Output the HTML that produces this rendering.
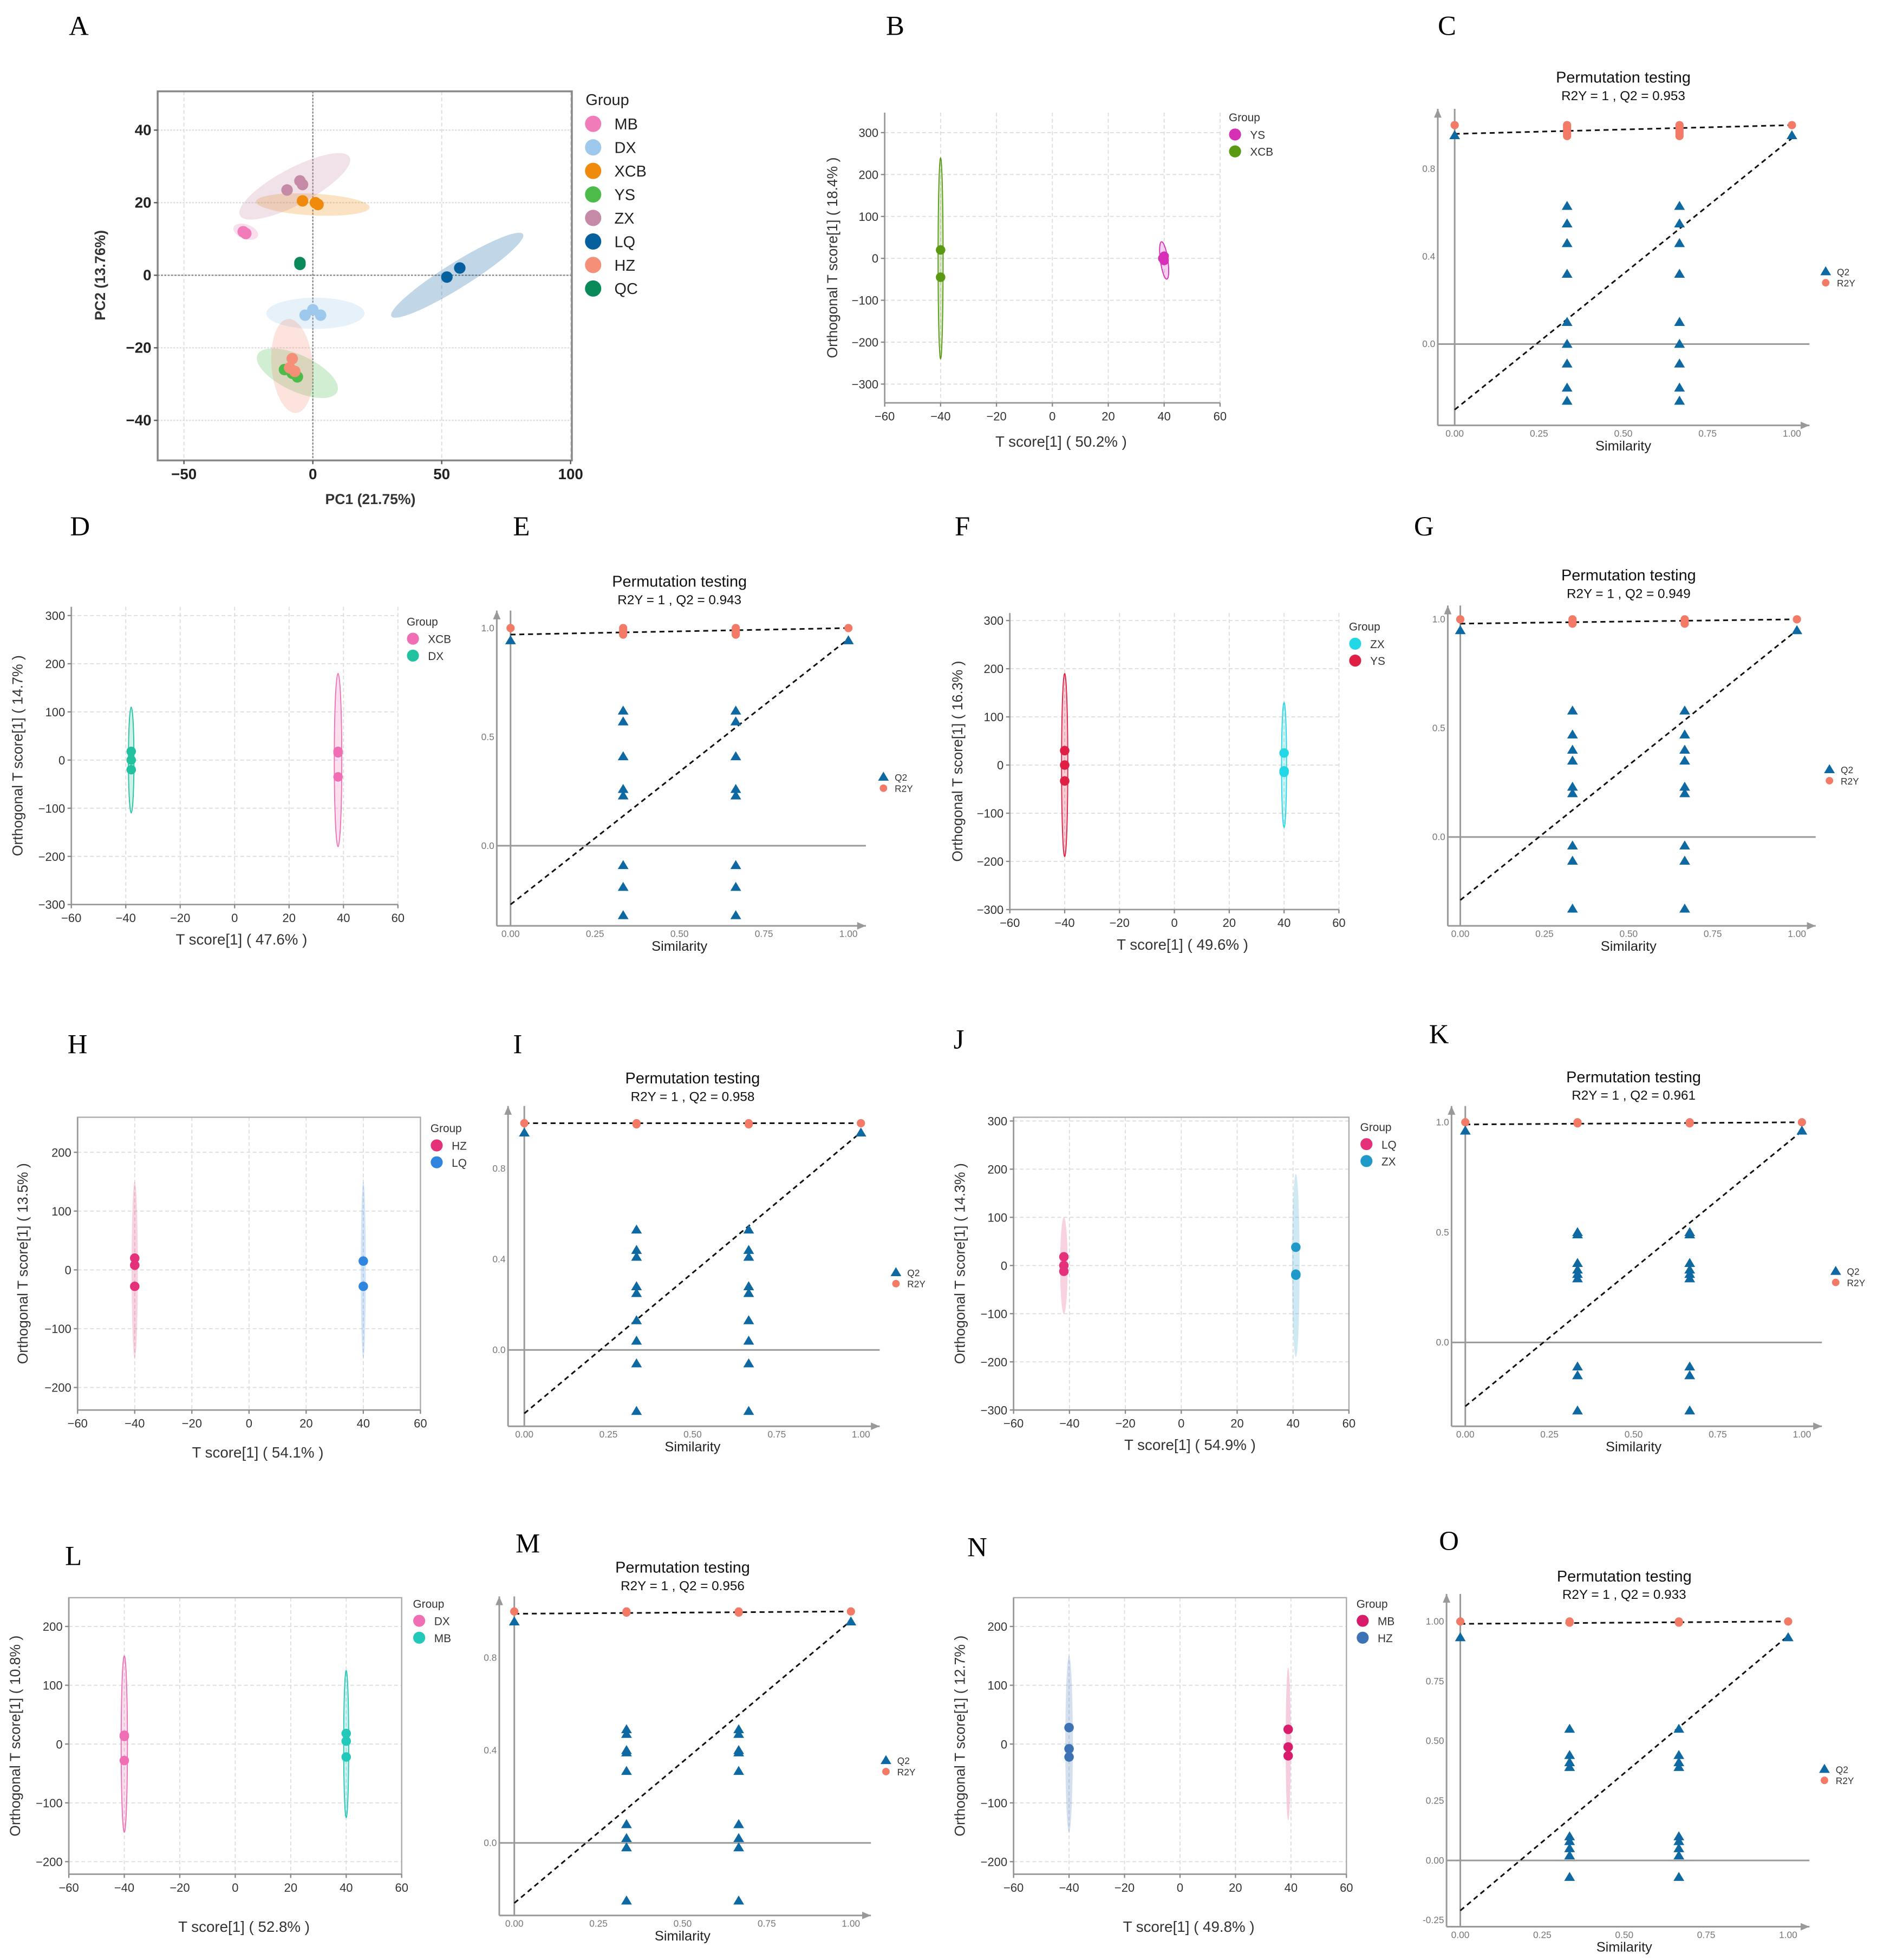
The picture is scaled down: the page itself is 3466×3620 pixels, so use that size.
<!DOCTYPE html>
<html><head><meta charset="utf-8"><style>
html,body{margin:0;padding:0;background:#fff}
svg{display:block}
text{font-family:"Liberation Sans",sans-serif}
.lab{font-family:"Liberation Serif",serif;font-size:22px}
</style></head><body>
<svg id="fig" xmlns="http://www.w3.org/2000/svg" width="3466" height="3620" viewBox="0 0 1500 1566.6" preserveAspectRatio="none"></svg>
<script>
// ===== Panel A (PCA) data =====
const aGroups = ["MB","DX","XCB","YS","ZX","LQ","HZ","QC"];
const aColors = ["#f07cba","#9fc9ec","#f08a0c","#4dbb4a","#c58aa5","#07609e","#f58f78","#0a8a5a"];
const aPoints = [[[-27,12],[-26,11.5]],[[0,-9.5],[-3,-11],[3,-11]],[[-4,20.5],[1,20],[2,19.5]],[[-11,-26],[-6,-28],[-8,-27]],[[-10,23.5],[-5,26],[-4,25]],[[52,-0.5],[57,2]],[[-8,-23],[-9,-25.5],[-7,-26.5]],[[-5,3.5],[-5,3]]];
const aEll = [[-26,12,5,2,-20],[1,-10.5,19,4.3,0],[0,19.5,22,3,-3],[-6,-27,17,5,-25],[-7,24.5,24,5,28],[56,0,30,3.5,32],[-8,-25,8,13,5],[-5,3.3,1,1,0]];
const aXTicks = [-50,0,50,100];
const aYTicks = [40,20,0,-20,-40];

// ===== OPLS-DA score plots data =====
const bGroups=["YS","XCB"], bColors=["#d62fb8","#5a9a13"], bPts=[[[40,5],[40,-5],[39.5,0]],[[-40,20],[-40,-45]]];
const dGroups=["XCB","DX"], dColors=["#f06eb4","#22c2a0"], dPts=[[[38,18],[38,-35],[38,15]],[[-38,18],[-38,0],[-38,-20]]];
const fGroups=["ZX","YS"], fColors=["#22d8e6","#e01f45"], fPts=[[[40,25],[40,-12],[40,-15]],[[-40,30],[-40,0],[-40,-33]]];
const hGroups=["HZ","LQ"], hColors=["#e5307a","#2f86df"], hPts=[[[-40,20],[-40,8],[-40,-28]],[[40,15],[40,-28]]];
const jGroups=["LQ","ZX"], jColors=["#e5307a","#1f9ac8"], jPts=[[[-42,18],[-42,0],[-42,-12]],[[41,38],[41,-18],[41,-20]]];
const lGroups=["DX","MB"], lColors=["#f06eb4","#22c8b8"], lPts=[[[-40,15],[-40,13],[-40,-28]],[[40,18],[40,5],[40,-22]]];
const nGroups=["MB","HZ"], nColors=["#d81b6a","#3d73b5"], nPts=[[[39,25],[39,-5],[39,-20]],[[-40,28],[-40,-8],[-40,-22]]];
const scoreXTicks=[-60,-40,-20,0,20,40,60];

// ===== Permutation data =====
const cQ2=[0.63,0.55,0.46,0.32,0.10,0.0,-0.09,-0.20,-0.26], cR2=[1.0,0.99,0.98,0.97,0.96,0.95], cEnd=[0.953,1.0], cLines=[0.96,1.0,-0.30,0.94];
const eQ2=[0.62,0.57,0.41,0.26,0.23,-0.09,-0.19,-0.32], eR2=[1.0,0.99,0.98,0.97], eEnd=[0.943,1.0], eLines=[0.97,1.0,-0.27,0.95];
const gQ2=[0.58,0.47,0.40,0.35,0.23,0.20,-0.04,-0.11,-0.33], gR2=[1.0,0.99,0.98], gEnd=[0.949,1.0], gLines=[0.98,1.0,-0.29,0.95];
const iQ2=[0.53,0.44,0.41,0.28,0.25,0.13,0.04,-0.06,-0.27], iR2=[1.0,0.995], iEnd=[0.958,1.0], iLines=[1.0,1.0,-0.28,0.96];
const kQ2=[0.50,0.49,0.36,0.33,0.31,0.29,-0.11,-0.15,-0.31], kR2=[1.0,0.995], kEnd=[0.961,1.0], kLines=[0.99,1.0,-0.29,0.96];
const mQ2=[0.49,0.47,0.40,0.39,0.31,0.08,0.02,-0.02,-0.25], mR2=[1.0,0.995], mEnd=[0.956,1.0], mLines=[0.99,1.0,-0.26,0.96];
const oQ2=[0.55,0.44,0.41,0.39,0.10,0.08,0.05,0.02,-0.07], oR2=[1.0,0.995], oEnd=[0.933,1.0], oLines=[0.99,1.0,-0.21,0.94];

const NS="http://www.w3.org/2000/svg";
const svg=document.getElementById('fig');
function el(tag,attrs,parent,txt){const e=document.createElementNS(NS,tag);for(const k in attrs)e.setAttribute(k,attrs[k]);if(txt!==undefined)e.textContent=txt;(parent||svg).appendChild(e);return e;}
function lin(v0,p0,v1,p1){return v=>p0+(v-v0)*(p1-p0)/(v1-v0);}

// Panel letters
const letters=[["A",63,28],["B",716,28],["C",1157,28],["D",64,428],["E",418,428],["F",771,428],["G",1138,428],["H",62,842],["I",418,842],["J",770,838],["K",1150,834],["L",60,1251],["M",420,1241],["N",781,1244],["O",1158,1239]];
letters.forEach(l=>{const t=el('text',{x:l[1]-8,y:l[2],class:'lab'},svg,l[0]);

});

// ===== Panel A =====
(function(){
 const g=el('g',{});
 const X=lin(0,250,50,353),Y=lin(0,220,20,162);
 const L=126,R=457,T=73,B=368;
 aXTicks.forEach(v=>el('line',{x1:X(v),x2:X(v),y1:T,y2:B,stroke:'#ddd','stroke-dasharray':'3,2','stroke-width':0.8},g));
 aYTicks.forEach(v=>el('line',{x1:L,x2:R,y1:Y(v),y2:Y(v),stroke:'#ddd','stroke-dasharray':'1.5,1','stroke-width':1},g));
 el('line',{x1:X(0),x2:X(0),y1:T,y2:B,stroke:'#777','stroke-dasharray':'1.5,1.2','stroke-width':0.9},g);
 el('line',{x1:L,x2:R,y1:Y(0),y2:Y(0),stroke:'#777','stroke-dasharray':'1.5,1.2','stroke-width':0.9},g);
 aEll.forEach((e,i)=>{if(i===7)return;const el2=el('ellipse',{cx:X(e[0]),cy:Y(e[1]),rx:e[2]*2.067,ry:e[3]*2.9,fill:aColors[i],opacity:0.25,transform:`rotate(${-e[4]} ${X(e[0])} ${Y(e[1])})`},g);
  });
 aPoints.forEach((pts,i)=>pts.forEach(p=>{const c=el('circle',{cx:X(p[0]),cy:Y(p[1]),r:4.6,fill:aColors[i]},g);
  }));
 el('rect',{x:L,y:T,width:R-L,height:B-T,fill:'none',stroke:'#888','stroke-width':1.5},g);
 aXTicks.forEach(v=>{el('line',{x1:X(v),x2:X(v),y1:B,y2:B+3,stroke:'#555'},g);el('text',{x:X(v),y:B+15,'text-anchor':'middle','font-size':12,'font-weight':'bold',fill:'#222'},g,v==-50?'−50':v);});
 aYTicks.forEach(v=>{el('line',{x1:L-3,x2:L,y1:Y(v),y2:Y(v),stroke:'#555'},g);el('text',{x:L-5,y:Y(v)+4,'text-anchor':'end','font-size':12,'font-weight':'bold',fill:'#222'},g,v<0?'−'+(-v):v);});
 el('text',{x:296,y:403,'text-anchor':'middle','font-size':11.5,'font-weight':'bold',fill:'#333'},g,'PC1 (21.75%)');
 el('text',{x:0,y:0,'text-anchor':'middle','font-size':11.5,'font-weight':'bold',fill:'#333',transform:'translate(84,220) rotate(-90)'},g,'PC2 (13.76%)');
 el('text',{x:468,y:84,'font-size':12.5,fill:'#222'},g,'Group');
 aGroups.forEach((n,i)=>{const yy=99+i*18.8;el('circle',{cx:474,cy:yy,r:6.5,fill:aColors[i]},g);
  const t=el('text',{x:491,y:yy+4.5,'font-size':12.5,fill:'#222'},g,n);});
})();

// ===== Score plots =====
function score(o){
 const g=el('g',{});
 const X=lin(-60,o.L,60,o.R);const Y=lin(o.yt[0],o.yt[1],o.yt[2],o.yt[3]);
 o.yticks.forEach(v=>el('line',{x1:o.L,x2:o.R,y1:Y(v),y2:Y(v),stroke:'#ddd','stroke-dasharray':'3,2','stroke-width':0.8},g));
 scoreXTicks.forEach(v=>el('line',{x1:X(v),x2:X(v),y1:o.T,y2:o.B,stroke:'#ddd','stroke-dasharray':'3,2','stroke-width':0.8},g));
 o.pts.forEach((pts,i)=>{const e=o.ell[i];const ee=el('ellipse',{cx:X(e[0]),cy:Y(e[1]),rx:e[2],ry:Math.abs(Y(e[3])-Y(0)),fill:o.colors[i],opacity:0.22,transform:`rotate(${e[4]||0} ${X(e[0])} ${Y(e[1])})`},g);
  
  if(o.ring) el('ellipse',{cx:X(e[0]),cy:Y(e[1]),rx:e[2],ry:Math.abs(Y(e[3])-Y(0)),fill:'none',stroke:o.colors[i],'stroke-width':0.8,transform:`rotate(${e[4]||0} ${X(e[0])} ${Y(e[1])})`},g);});
 o.pts.forEach((pts,i)=>pts.forEach(p=>{const c=el('circle',{cx:X(p[0]),cy:Y(p[1]),r:3.8,fill:o.colors[i]},g);
  }));
 if(o.box) el('rect',{x:o.L,y:o.T,width:o.R-o.L,height:o.B-o.T,fill:'none',stroke:'#aaa','stroke-width':1},g);
 el('line',{x1:o.L,x2:o.L,y1:o.T,y2:o.B,stroke:'#999','stroke-width':1.2},g);
 el('line',{x1:o.L,x2:o.R,y1:o.B,y2:o.B,stroke:'#999','stroke-width':1.2},g);
 scoreXTicks.forEach(v=>{el('line',{x1:X(v),x2:X(v),y1:o.B,y2:o.B+3,stroke:'#888'},g);el('text',{x:X(v),y:o.B+14,'text-anchor':'middle','font-size':9.5,fill:'#333'},g,v<0?'−'+(-v):v);});
 o.yticks.forEach(v=>{el('line',{x1:o.L-3,x2:o.L,y1:Y(v),y2:Y(v),stroke:'#888'},g);el('text',{x:o.L-5,y:Y(v)+3.5,'text-anchor':'end','font-size':9.5,fill:'#333'},g,v<0?'−'+(-v):v);});
 el('text',{x:o.xl[0],y:o.xl[1]+4,'text-anchor':'middle','font-size':12,fill:'#333'},g,'T score[1] ( '+o.pct[0]+'% )');
 el('text',{x:0,y:0,'text-anchor':'middle','font-size':11.5,fill:'#333',transform:`translate(${o.yl+4},${(o.T+o.B)/2}) rotate(-90)`},g,'Orthogonal T score[1] ( '+o.pct[1]+'% )');
 el('text',{x:o.lg[0],y:o.lg[1]+3,'font-size':9,fill:'#333'},g,'Group');
 o.groups.forEach((n,i)=>{const yy=o.lg[1]+13.5*(i+1);el('circle',{cx:o.lg[0]+5,cy:yy,r:4.8,fill:o.colors[i]},g);
  const t=el('text',{x:o.lg[0]+17,y:yy+3.5,'font-size':9,fill:'#333'},g,n);});
}
score({id:'b',L:707,R:975,T:90,B:322,yt:[300,106,-300,307],yticks:[300,200,100,0,-100,-200,-300],groups:bGroups,colors:bColors,pts:bPts,ell:[[40,-5,3,45,-8],[-40,0,2,240,0]],xl:[848,353],yl:665,pct:['50.2','18.4'],lg:[982,94],ring:true});
score({id:'d',L:57,R:318,T:485,B:723,yt:[300,492,-300,723],yticks:[300,200,100,0,-100,-200,-300],groups:dGroups,colors:dColors,pts:dPts,ell:[[38,0,3,180,0],[-38,0,2.2,110,0]],xl:[193,751],yl:14,pct:['47.6','14.7'],lg:[325,497],ring:true});
score({id:'f',L:807,R:1070,T:490,B:727,yt:[300,496,-300,727],yticks:[300,200,100,0,-100,-200,-300],groups:fGroups,colors:fColors,pts:fPts,ell:[[40,0,2,130,0],[-40,0,2.5,190,0]],xl:[945,755],yl:765,pct:['49.6','16.3'],lg:[1078,501],ring:true});
score({id:'h',L:62,R:336,T:893,B:1127,yt:[200,921,-200,1109],yticks:[200,100,0,-100,-200],groups:hGroups,colors:hColors,pts:hPts,ell:[[-40,0,2.5,150,0],[40,0,2,150,0]],xl:[206,1161],yl:18,pct:['54.1','13.5'],lg:[344,902],box:true});
score({id:'j',L:810,R:1078,T:893,B:1127,yt:[300,896,-300,1127],yticks:[300,200,100,0,-100,-200,-300],groups:jGroups,colors:jColors,pts:jPts,ell:[[-42,0,3,100,0],[41,0,3,190,0]],xl:[951,1155],yl:767,pct:['54.9','14.3'],lg:[1087,901],box:true});
score({id:'l',L:55,R:321,T:1277,B:1498,yt:[200,1300,-200,1488],yticks:[200,100,0,-100,-200],groups:lGroups,colors:lColors,pts:lPts,ell:[[-40,0,2.5,150,0],[40,0,2,125,0]],xl:[195,1540],yl:12,pct:['52.8','10.8'],lg:[330,1282],box:true,ring:true});
score({id:'n',L:810,R:1076,T:1277,B:1498,yt:[200,1300,-200,1488],yticks:[200,100,0,-100,-200],groups:nGroups,colors:nColors,pts:nPts,ell:[[39,0,2,130,0],[-40,0,3,150,0]],xl:[950,1540],yl:767,pct:['49.8','12.7'],lg:[1084,1282],box:true});

// ===== Permutation plots =====
function perm(o){
 const g=el('g',{});
 const X=lin(0,o.x0,1,o.x1),Y=lin(o.yt[0],o.yt[1],o.yt[2],o.yt[3]);
 const ax='#999';
 el('line',{x1:o.L,x2:o.L,y1:o.B,y2:o.T,stroke:ax,'stroke-width':1.3},g);
 el('path',{d:`M${o.L-3},${o.T+7} L${o.L},${o.T} L${o.L+3},${o.T+7} Z`,fill:ax},g);
 el('line',{x1:o.L,x2:o.R,y1:o.B,y2:o.B,stroke:ax,'stroke-width':1.3},g);
 el('path',{d:`M${o.R-7},${o.B-3} L${o.R},${o.B} L${o.R-7},${o.B+3} Z`,fill:ax},g);
 el('line',{x1:X(0),x2:X(0),y1:o.T,y2:o.B,stroke:ax,'stroke-width':1.3},g);
 el('line',{x1:o.L,x2:o.R,y1:Y(0),y2:Y(0),stroke:ax,'stroke-width':1.3},g);
 [0,0.25,0.5,0.75,1].forEach(v=>el('text',{x:X(v),y:o.B+9,'text-anchor':'middle','font-size':7.5,fill:'#777'},g,v.toFixed(2)));
 o.yticks.forEach(v=>el('text',{x:o.L-2,y:Y(v)+2.5,'text-anchor':'end','font-size':7.5,fill:'#777'},g,o.dec==2?v.toFixed(2):v.toFixed(1)));
 const ln=o.lines;
 el('line',{x1:X(0),y1:Y(ln[0]),x2:X(1),y2:Y(ln[1]),stroke:'#111','stroke-width':1.3,'stroke-dasharray':'4,3'},g);
 el('line',{x1:X(0),y1:Y(ln[2]),x2:X(1),y2:Y(ln[3]),stroke:'#111','stroke-width':1.3,'stroke-dasharray':'4,3'},g);
 const tri=(x,y)=>`M${x},${y-4.2} L${x+4.3},${y+3} L${x-4.3},${y+3} Z`;
 [1/3,2/3].forEach(s=>{
  o.r2.forEach(v=>{const c=el('circle',{cx:X(s),cy:Y(v),r:3.3,fill:'#f27a66'},g);});
  o.q2.forEach(v=>{const p=el('path',{d:tri(X(s),Y(v)),fill:'#0e68a2'},g);});
 });
 [0,1].forEach(s=>{const c=el('circle',{cx:X(s),cy:Y(o.end[1]),r:3.3,fill:'#f27a66'},g);
  const p=el('path',{d:tri(X(s),Y(o.end[0])),fill:'#0e68a2'},g);});
 const cx=(o.x0+o.x1)/2;
 el('text',{x:cx,y:o.ty,'text-anchor':'middle','font-size':12.5,fill:'#111'},g,'Permutation testing');
 el('text',{x:cx,y:o.ty+14,'text-anchor':'middle','font-size':10.5,fill:'#111'},g,'R2Y = 1 ,  Q2 = '+o.q2v);
 el('text',{x:cx,y:o.B+20,'text-anchor':'middle','font-size':11,fill:'#222'},g,'Similarity');
 el('path',{d:tri(o.lg[0],o.lg[1]),fill:'#0e68a2'},g);
 el('circle',{cx:o.lg[0],cy:o.lg[1]+9,r:3,fill:'#f27a66'},g);
 const t1=el('text',{x:o.lg[0]+9,y:o.lg[1]+3,'font-size':7.5,fill:'#333'},g,'Q2');
 const t2=el('text',{x:o.lg[0]+9,y:o.lg[1]+12,'font-size':7.5,fill:'#333'},g,'R2Y');
}
perm({id:'c',x0:1162.5,x1:1432,yt:[0,275,0.4,205],L:1149,T:87,B:340,R:1446,yticks:[0,0.4,0.8],q2:cQ2,r2:cR2,end:cEnd,lines:cLines,ty:66,q2v:'0.953',lg:[1459,217]});
perm({id:'e',x0:408,x1:678,yt:[0,676,0.5,589],L:397,T:488,B:740,R:692,yticks:[0,0.5,1.0],q2:eQ2,r2:eR2,end:eEnd,lines:eLines,ty:469,q2v:'0.943',lg:[706,621]});
perm({id:'g',x0:1167,x1:1436,yt:[0,669,0.5,582],L:1157,T:484,B:740,R:1451,yticks:[0,0.5,1.0],q2:gQ2,r2:gR2,end:gEnd,lines:gLines,ty:464,q2v:'0.949',lg:[1462,615]});
perm({id:'i',x0:419,x1:688,yt:[0,1079,0.4,1006.5],L:406,T:884,B:1140,R:703,yticks:[0,0.4,0.8],q2:iQ2,r2:iR2,end:iEnd,lines:iLines,ty:866,q2v:'0.958',lg:[716,1017]});
perm({id:'k',x0:1171,x1:1440,yt:[0,1073,0.5,985],L:1160,T:884,B:1140,R:1456,yticks:[0,0.5,1.0],q2:kQ2,r2:kR2,end:kEnd,lines:kLines,ty:865,q2v:'0.961',lg:[1467,1016]});
perm({id:'m',x0:411,x1:680,yt:[0,1473,0.4,1399],L:399,T:1276,B:1531,R:696,yticks:[0,0.4,0.8],q2:mQ2,r2:mR2,end:mEnd,lines:mLines,ty:1257,q2v:'0.956',lg:[708,1407]});
perm({id:'o',x0:1167,x1:1429,yt:[0,1487,1,1296],L:1156,T:1274,B:1540,R:1446,yticks:[-0.25,0,0.25,0.5,0.75,1.0],dec:2,q2:oQ2,r2:oR2,end:oEnd,lines:oLines,ty:1264,q2v:'0.933',lg:[1458,1414]});
</script>
</body></html>
